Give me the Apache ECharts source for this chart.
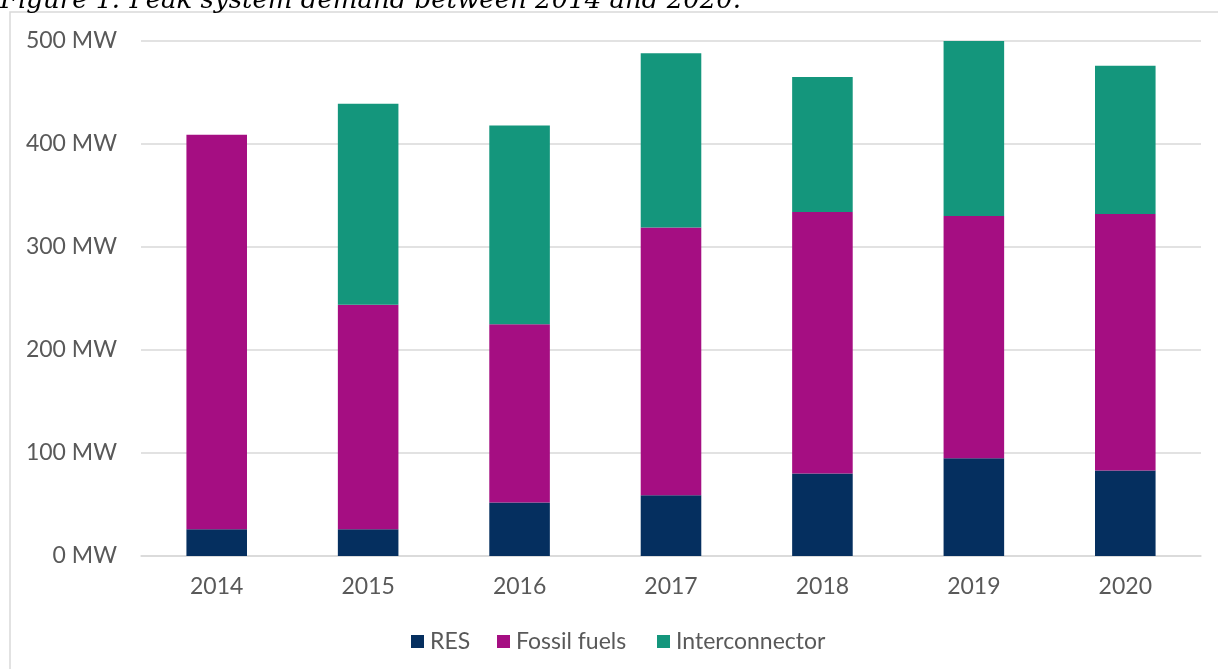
<!DOCTYPE html>
<html>
<head>
<meta charset="utf-8">
<style>
html,body{margin:0;padding:0;background:#fff;}
#chart{width:1218px;height:669px;}
</style>
<script src="https://cdn.jsdelivr.net/npm/echarts@6/dist/echarts.min.js"></script>
</head>
<body>
<div id="chart"></div>
<script>
const years = ['2014','2015','2016','2017','2018','2019','2020'];
const resValues = [26, 26, 52, 59, 80, 95, 83];
const fossilValues = [383, 218, 173, 260, 254, 235, 249];
const interconnectorValues = [0, 195, 193, 169, 131, 170, 144];
const yTicks = [0, 100, 200, 300, 400, 500];
const seriesNames = ['RES', 'Fossil fuels', 'Interconnector'];

const chart = echarts.init(document.getElementById('chart'));
const labelFont = 'Lato, "Noto Sans", sans-serif';
const legendBase = {
  top: 625,
  itemWidth: 13,
  itemHeight: 13,
  itemGap: 29,
  icon: 'rect',
  textStyle: {fontFamily: labelFont, fontSize: 23, color: '#595959', padding: [0, 0, 0, 1]}
};
const legendLefts = [406, 492, 652];
const option = {
  animation: false,
  backgroundColor: '#ffffff',
  graphic: [
    {
      type: 'rect',
      shape: {x: 10, y: 12, width: 1230, height: 700},
      style: {fill: 'none', stroke: '#d9d9d9', lineWidth: 1.5},
      silent: true
    },
    {
      type: 'text',
      left: 0,
      top: -12,
      style: {
        text: 'Figure 1: Peak system demand between 2014 and 2020.',
        font: 'italic 26px "DejaVu Serif", serif',
        fill: '#000000'
      },
      silent: true
    }
  ],
  grid: {left: 141, right: 17, top: 41, bottom: 113, containLabel: false},
  legend: seriesNames.map((n, i) => Object.assign({}, legendBase, {left: legendLefts[i], data: [n]})),
  xAxis: {
    type: 'category',
    data: years,
    axisLine: {lineStyle: {color: '#d9d9d9', width: 1.5}},
    axisTick: {show: false},
    axisLabel: {fontFamily: labelFont, fontSize: 23, color: '#595959', margin: 19}
  },
  yAxis: {
    type: 'value',
    min: yTicks[0],
    max: yTicks[yTicks.length - 1],
    interval: 100,
    axisLine: {show: false},
    axisTick: {show: false},
    splitLine: {lineStyle: {color: '#d9d9d9', width: 1.5}},
    axisLabel: {fontFamily: labelFont, fontSize: 23, color: '#595959', margin: 24, formatter: '{value} MW'}
  },
  series: [
    {name: seriesNames[0], type: 'bar', stack: 'total', barWidth: '40%', data: resValues, itemStyle: {color: '#052f5f'}},
    {name: seriesNames[1], type: 'bar', stack: 'total', barWidth: '40%', data: fossilValues, itemStyle: {color: '#a50e82'}},
    {name: seriesNames[2], type: 'bar', stack: 'total', barWidth: '40%', data: interconnectorValues, itemStyle: {color: '#14967c'}}
  ]
};
chart.setOption(option);
</script>
</body>
</html>
